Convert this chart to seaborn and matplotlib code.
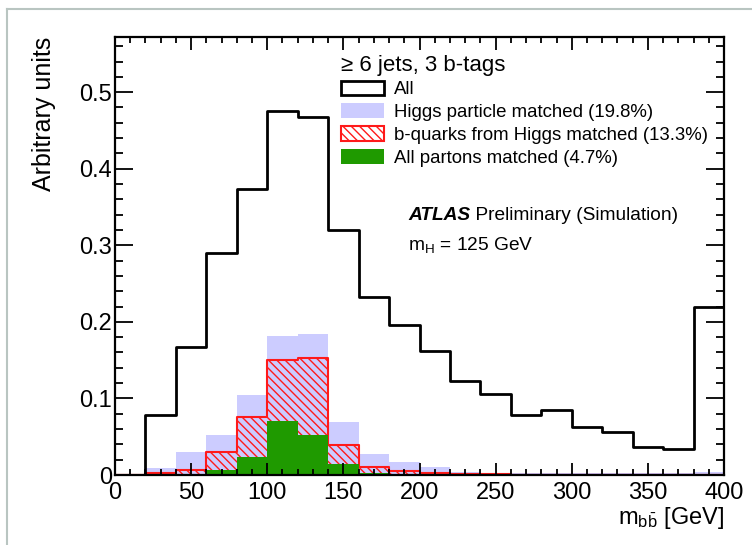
import numpy as np
import pandas as pd
import matplotlib
matplotlib.use("Agg")
import matplotlib.pyplot as plt
from matplotlib.patches import Patch
from matplotlib.lines import Line2D
from matplotlib.ticker import MultipleLocator, FuncFormatter
import seaborn as sns

# m_bb histogram, 20 GeV bins from 0 to 400
bin_centers = [10, 30, 50, 70, 90, 110, 130, 150, 170, 190,
               210, 230, 250, 270, 290, 310, 330, 350, 370, 390]
all_jets = [0.0, 0.078, 0.167, 0.290, 0.373, 0.476, 0.468, 0.320, 0.232, 0.196,
            0.162, 0.123, 0.106, 0.079, 0.085, 0.063, 0.056, 0.036, 0.034, 0.220]
higgs_matched = [0.0, 0.009, 0.030, 0.052, 0.105, 0.182, 0.184, 0.069, 0.027, 0.017,
                 0.010, 0.004, 0.003, 0.002, 0.002, 0.002, 0.002, 0.002, 0.002, 0.004]
bquarks_matched = [0.0, 0.002, 0.007, 0.030, 0.076, 0.150, 0.153, 0.039, 0.011, 0.005,
                   0.002, 0.001, 0.001, 0.0, 0.0, 0.0, 0.0, 0.0, 0.0, 0.0]
partons_matched = [0.0, 0.0, 0.001, 0.006, 0.024, 0.070, 0.052, 0.014, 0.002, 0.001,
                   0.001, 0.001, 0.001, 0.001, 0.001, 0.001, 0.001, 0.001, 0.001, 0.001]

legend_labels = ["All", "Higgs particle matched (19.8%)",
                 "b-quarks from Higgs matched (13.3%)", "All partons matched (4.7%)"]

plt.rcParams['font.family'] = ['Liberation Sans', 'DejaVu Sans']
plt.rcParams['mathtext.fontset'] = 'custom'
plt.rcParams['mathtext.rm'] = 'Liberation Sans'
plt.rcParams['mathtext.it'] = 'Liberation Sans:italic'
plt.rcParams['hatch.linewidth'] = 1.0

df = pd.DataFrame({"mbb": bin_centers, "all": all_jets, "higgs": higgs_matched,
                   "bq": bquarks_matched, "partons": partons_matched})
hist_kw = dict(data=df, x="mbb", binwidth=20, binrange=(0, 400), element="step")

fig = plt.figure(figsize=(7.52, 5.45), dpi=100)
ax = fig.add_axes([115 / 752, 1 - 475 / 545, 609 / 752, 438 / 545])

sns.histplot(weights="higgs", fill=True, color="#ccccff", alpha=1, linewidth=0, ax=ax, **hist_kw)
sns.histplot(weights="bq", fill=True, color="#ff1a1a", facecolor="none", edgecolor="#ff1a1a",
             hatch="\\\\\\\\", alpha=1, linewidth=1.5, ax=ax, **hist_kw)
sns.histplot(weights="partons", fill=True, color="#1f9a00", alpha=1, linewidth=0, ax=ax, **hist_kw)
sns.histplot(weights="all", fill=False, color="black", linewidth=2, ax=ax, **hist_kw)

ax.set_xlim(0, 400)
ax.set_ylim(0, 0.572)
ax.xaxis.set_major_locator(MultipleLocator(50))
ax.xaxis.set_minor_locator(MultipleLocator(10))
ax.yaxis.set_major_locator(MultipleLocator(0.1))
ax.yaxis.set_minor_locator(MultipleLocator(0.02))
ax.yaxis.set_major_formatter(FuncFormatter(lambda v, p: "0" if abs(v) < 1e-9 else f"{v:.1f}"))
ax.tick_params(axis="both", which="both", direction="in", top=True, right=True,
               width=1.3, labelsize=17)
ax.tick_params(axis="x", which="major", length=9, pad=5)
ax.tick_params(axis="x", which="minor", length=4.5)
ax.tick_params(axis="y", which="major", length=13, pad=2)
ax.tick_params(axis="y", which="minor", length=6)
for s in ax.spines.values():
    s.set_linewidth(1.6)

ax.set_ylabel("Arbitrary units", fontsize=18, loc="top", labelpad=17)
ax.set_xlabel(r"m$_{\mathregular{b\bar{b}}}$ [GeV]", fontsize=17, loc="right", labelpad=1)

handles = [
    Patch(facecolor="white", edgecolor="black", linewidth=2),
    Patch(facecolor="#ccccff", edgecolor="none"),
    Patch(facecolor="white", edgecolor="#ff1a1a", hatch="\\\\\\\\", linewidth=1.5),
    Patch(facecolor="#1f9a00", edgecolor="none"),
]
leg = ax.legend(handles, legend_labels, title="\u2265 6 jets, 3 b-tags",
                loc="upper left", bbox_to_anchor=(0.365, 0.968), frameon=False,
                fontsize=13.4, title_fontsize=16, alignment="left",
                handlelength=2.3, handleheight=0.85, handletextpad=0.55,
                labelspacing=0.26, borderaxespad=0, borderpad=0.2)

t1 = ax.text(0.481, 0.573, "ATLAS", transform=ax.transAxes, fontsize=13.8,
             fontweight="bold", fontstyle="italic", va="bottom")
ax.annotate(" Preliminary (Simulation)", xy=(1, 0), xycoords=t1, fontsize=13.8, va="bottom")
ax.text(0.481, 0.503, r"m$_{\mathregular{H}}$ = 125 GeV", transform=ax.transAxes,
        fontsize=13.8, va="bottom")

# light screenshot border
fig.add_artist(Line2D([7 / 752, 7 / 752], [0, 1 - 8.5 / 545], transform=fig.transFigure,
                      color="#b9c5c1", linewidth=1.5))
fig.add_artist(Line2D([7 / 752, 1], [1 - 8.5 / 545, 1 - 8.5 / 545], transform=fig.transFigure,
                      color="#b9c5c1", linewidth=1.5))

fig.savefig("out.png", dpi=100)
